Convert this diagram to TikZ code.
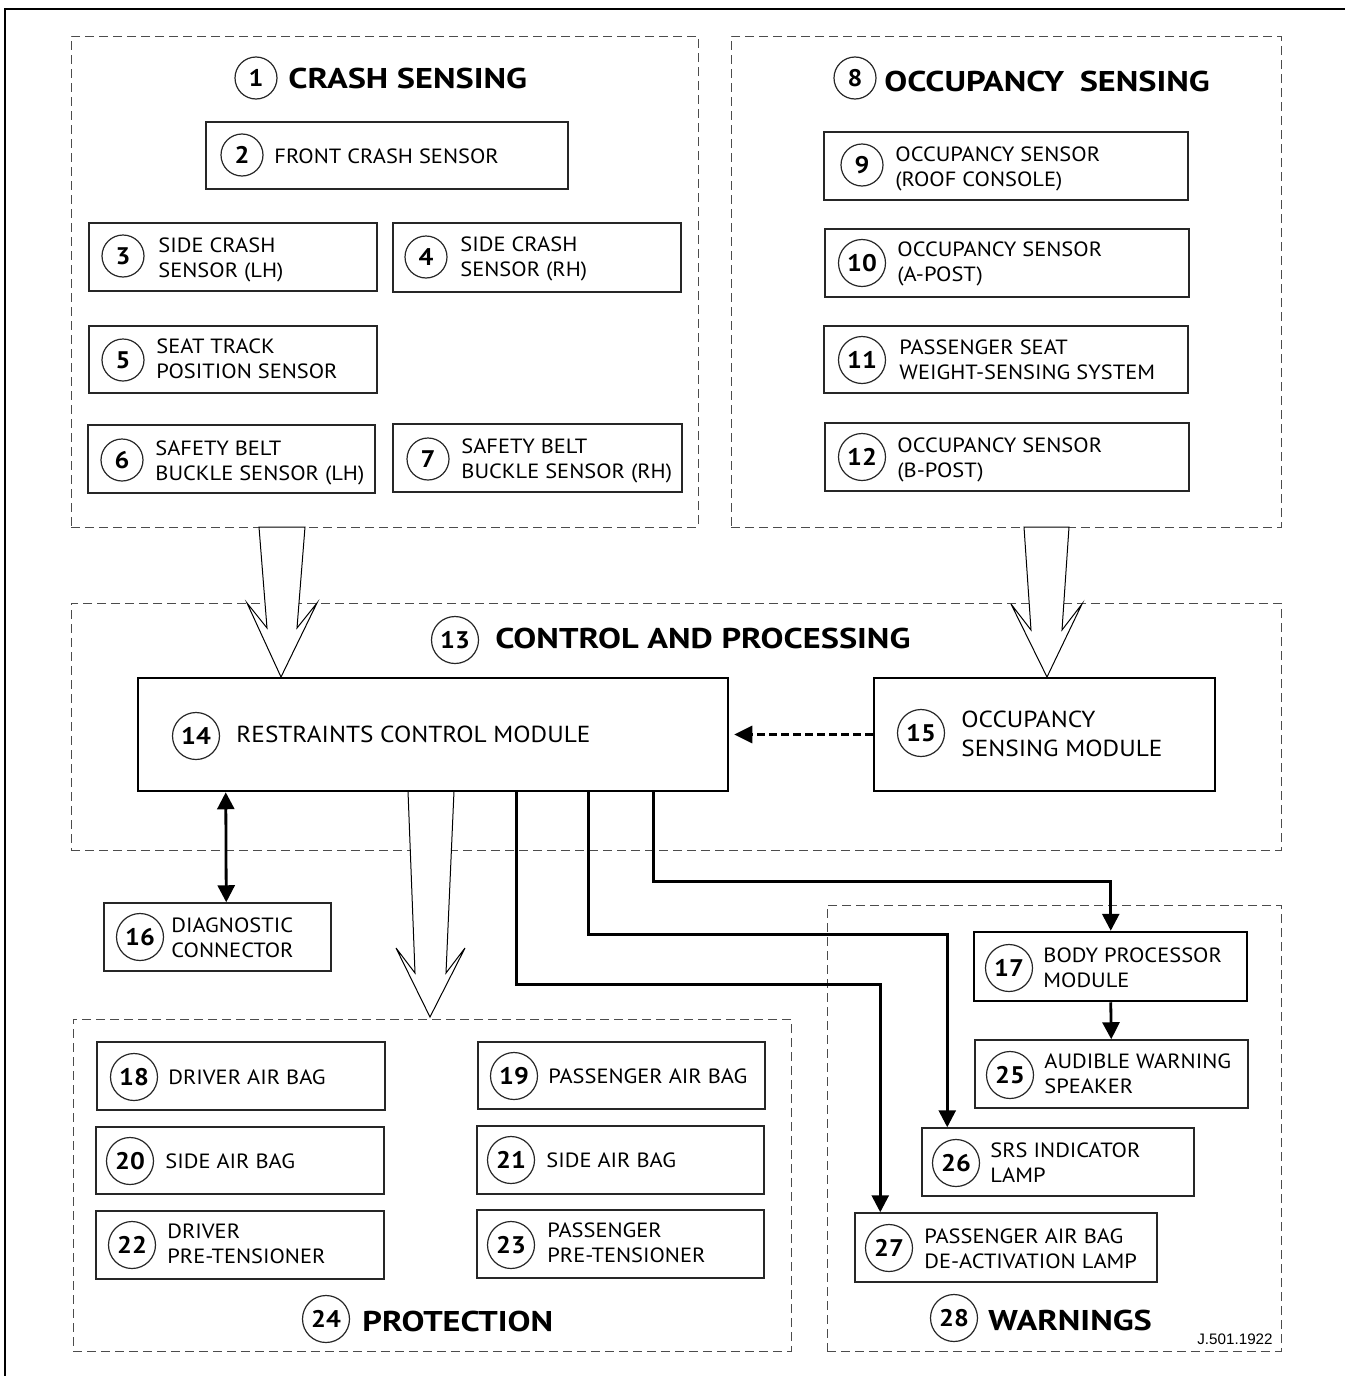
\documentclass[tikz,border=0pt]{standalone}
\usepackage{fontspec}
\setmainfont{PT Sans}[FakeStretch=1.09]
\newfontfamily\ttlfont{PT Sans}[FakeStretch=1.2]
\newfontfamily\tagfont{Liberation Sans}
\usetikzlibrary{arrows.meta,calc,fit}
\begin{document}
\begin{tikzpicture}[x=0.5pt,y=-0.5pt,
  grp/.style={draw=black!70, line width=0.5pt, dash pattern=on 4.5pt off 2.5pt, inner sep=0pt},
  box/.style={draw=black!85, line width=0.75pt, inner sep=0pt},
  tbox/.style={draw=black, line width=1.25pt, inner sep=0pt},
  num/.style={draw=black!85, line width=0.6pt, circle, inner sep=0pt, minimum size=21pt, font=\bfseries\fontsize{12}{12}\selectfont},
  num2/.style={num, minimum size=23.5pt},
  lbl/.style={anchor=base west, align=left, inner sep=0pt, font=\fontsize{10.3}{12.5}\selectfont},
  lblL/.style={anchor=base west, align=left, inner sep=0pt, font=\fontsize{11.6}{14.5}\selectfont},
  ttl/.style={anchor=base west, inner sep=0pt, font=\ttlfont\bfseries\fontsize{14.3}{16}\selectfont},
  conn/.style={line width=1.4pt, -{Triangle[length=8.5pt,width=8.5pt]}},
  hollow/.style={draw=black, line width=0.5pt, fill=white, line join=miter}
]
\useasboundingbox (0,0) rectangle (1345,1376);
\draw[line width=0.9pt] (5,1376) -- (5,9) -- (1345,9);

% groups
\node[grp, fit={(71,36) (698,527)}] (g1) {};
\node[grp, fit={(731,36) (1281,527)}] (g8) {};
\node[grp, fit={(71,603) (1281,850)}] (g13) {};
\node[grp, fit={(73,1019) (791,1351)}] (g24) {};
\node[grp, fit={(827,905) (1281,1351)}] (g28) {};

% hollow arrows
\draw[hollow] (259,527) -- (267,628) -- (247,603) -- (281,677) -- (317,603) -- (297,628) -- (305,527) -- cycle;
\draw[hollow] (1024,527) -- (1031,630) -- (1011,604) -- (1047,677) -- (1082,604) -- (1062,630) -- (1069,527) -- cycle;
\draw[hollow] (408,791) -- (415,973) -- (396,948) -- (430,1017) -- (465,948) -- (446,973) -- (454,791) -- cycle;

% titles
\node[num] (c1) at (256,78) {1};
\node[ttl] (t1) at (288,88) {CRASH SENSING};
\node[num] (c8) at (855,78) {8};
\node[ttl] (t8) at (884,91) {OCCUPANCY\hspace{0.55em}SENSING};
\node[num2] (c13) at (455,640) {13};
\node[ttl] (t13) at (495,648) {CONTROL AND PROCESSING};
\node[num2] (c24) at (326,1319) {24};
\node[ttl] (t24) at (362,1331) {PROTECTION};
\node[num2] (c28) at (954,1318) {28};
\node[ttl] (t28) at (988,1330) {WARNINGS};

% crash sensing boxes
\node[box, fit={(206,122) (568,189)}] (b2) {};
\node[num] (c2) at (242,155) {2};
\node[lbl] (l2) at (274,163) {FRONT CRASH SENSOR};

\node[box, fit={(89,223) (377,291)}] (b3) {};
\node[num] (c3) at (123,256) {3};
\node[lbl] (l3) at (158,277) {SIDE CRASH\\SENSOR (LH)};

\node[box, fit={(393,223) (681,292)}] (b4) {};
\node[num] (c4) at (426,257) {4};
\node[lbl] (l4) at (460,276) {SIDE CRASH\\SENSOR (RH)};

\node[box, fit={(89,326) (377,393)}] (b5) {};
\node[num] (c5) at (123,360) {5};
\node[lbl] (l5) at (156,378) {SEAT TRACK\\POSITION SENSOR};

\node[box, fit={(88,425) (375,493)}] (b6) {};
\node[num] (c6) at (122,460) {6};
\node[lbl] (l6) at (155,480) {SAFETY BELT\\BUCKLE SENSOR (LH)};

\node[box, fit={(393,424) (682,492)}] (b7) {};
\node[num] (c7) at (428,459) {7};
\node[lbl] (l7) at (461,478) {SAFETY BELT\\BUCKLE SENSOR (RH)};

% occupancy boxes
\node[box, fit={(824,132) (1188,200)}] (b9) {};
\node[num] (c9) at (862,165) {9};
\node[lbl] (l9) at (895,186) {OCCUPANCY SENSOR\\(ROOF CONSOLE)};

\node[box, fit={(825,229) (1189,297)}] (b10) {};
\node[num2] (c10) at (862,263) {10};
\node[lbl] (l10) at (897,281) {OCCUPANCY SENSOR\\(A-POST)};

\node[box, fit={(824,326) (1188,393)}] (b11) {};
\node[num2] (c11) at (862,360) {11};
\node[lbl] (l11) at (899,379) {PASSENGER SEAT\\WEIGHT-SENSING SYSTEM};

\node[box, fit={(825,423) (1189,491)}] (b12) {};
\node[num2] (c12) at (862,457) {12};
\node[lbl] (l12) at (897,477) {OCCUPANCY SENSOR\\(B-POST)};

% control
\node[tbox, fit={(138,678) (728,791)}] (b14) {};
\node[num2] (c14) at (196,736) {14};
\node[lblL] (l14) at (236,742) {RESTRAINTS CONTROL MODULE};

\node[tbox, fit={(874,678) (1215,791)}] (b15) {};
\node[num2] (c15) at (921,733) {15};
\node[lblL] (l15) at (961,756) {OCCUPANCY\\SENSING MODULE};

\node[box, fit={(104,903) (331,971)}] (b16) {};
\node[num2] (c16) at (140,937) {16};
\node[lbl] (l16) at (171,957) {DIAGNOSTIC\\CONNECTOR};

% protection
\node[box, fit={(97,1042) (385,1110)}] (b18) {};
\node[num2] (c18) at (134,1077) {18};
\node[lbl] (l18) at (168,1084) {DRIVER AIR BAG};

\node[box, fit={(478,1042) (765,1109)}] (b19) {};
\node[num2] (c19) at (514,1076) {19};
\node[lbl] (l19) at (548,1083) {PASSENGER AIR BAG};

\node[box, fit={(96,1127) (384,1194)}] (b20) {};
\node[num2] (c20) at (130,1161) {20};
\node[lbl] (l20) at (165,1168) {SIDE AIR BAG};

\node[box, fit={(477,1126) (764,1194)}] (b21) {};
\node[num2] (c21) at (511,1160) {21};
\node[lbl] (l21) at (546,1167) {SIDE AIR BAG};

\node[box, fit={(96,1211) (384,1279)}] (b22) {};
\node[num2] (c22) at (132,1245) {22};
\node[lbl] (l22) at (167,1263) {DRIVER\\PRE-TENSIONER};

\node[box, fit={(477,1210) (764,1278)}] (b23) {};
\node[num2] (c23) at (511,1245) {23};
\node[lbl] (l23) at (547,1262) {PASSENGER\\PRE-TENSIONER};

% warnings
\node[tbox, fit={(974,932) (1247,1001)}] (b17) {};
\node[num2] (c17) at (1009,968) {17};
\node[lbl] (l17) at (1043,987) {BODY PROCESSOR\\MODULE};

\node[box, fit={(975,1040) (1248,1108)}] (b25) {};
\node[num2] (c25) at (1010,1075) {25};
\node[lbl] (l25) at (1044,1093) {AUDIBLE WARNING\\SPEAKER};

\node[box, fit={(922,1128) (1194,1196)}] (b26) {};
\node[num2] (c26) at (956,1163) {26};
\node[lbl] (l26) at (990,1182) {SRS INDICATOR\\LAMP};

\node[box, fit={(855,1213) (1157,1282)}] (b27) {};
\node[num2] (c27) at (889,1248) {27};
\node[lbl] (l27) at (924,1268) {PASSENGER AIR BAG\\DE-ACTIVATION LAMP};

\node[anchor=base east, inner sep=0pt, font=\tagfont\fontsize{7.6}{8}\selectfont] (ref) at (1273,1344) {J.501.1922};

% connectors
\draw[line width=1.4pt, dash pattern=on 4pt off 2pt, -{Triangle[length=9pt,width=8.5pt]}, shorten >=2.5pt] (b15.west) -- (b15.west -| b14.east);
\draw[line width=1.4pt, {Triangle[length=8.5pt,width=8.5pt]}-{Triangle[length=8.5pt,width=8.5pt]}] ($(b14.south west)+(89,0)$) -- ($(b16.north west)+(123,0)$);
\draw[conn] ($(b14.south west)+(380,0)$) -- ++(0,192) -| ($(b27.north west)+(26,0)$);
\draw[conn] ($(b14.south west)+(452,0)$) -- ++(0,142) -| ($(b26.north west)+(26,0)$);
\draw[conn] ($(b14.south west)+(517,0)$) -- ++(0,89) -| ($(b17.north west)+(138,0)$);
\draw[conn] ($(b17.south west)+(138,0)$) -- ($(b25.north west)+(137,0)$);
\end{tikzpicture}
\end{document}
